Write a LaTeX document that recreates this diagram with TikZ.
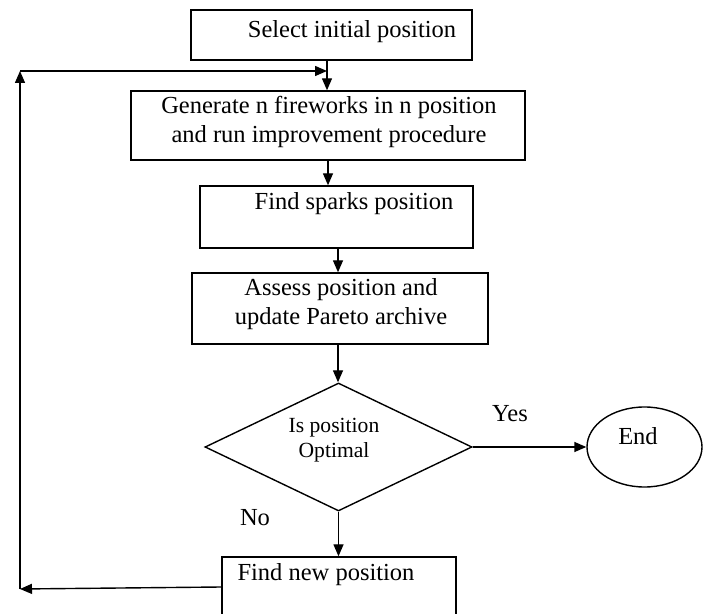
\documentclass[tikz,border=0pt]{standalone}
\usepackage{fontspec}
\setmainfont{Liberation Serif}
\usetikzlibrary{shapes.geometric,arrows.meta}
\begin{document}
\begin{tikzpicture}[x=0.5pt,y=-0.5pt,
  box/.style={draw,line width=0.7pt,rectangle,inner sep=0pt},
  txt/.style={inner sep=0pt,font=\fontsize{12.25}{14.5}\selectfont,align=center},
  small/.style={inner sep=0pt,font=\fontsize{10.8}{12.5}\selectfont,align=center},
  arr/.style={line width=0.7pt,-{Triangle[length=6pt,width=5pt]}},
  ln/.style={line width=0.7pt}]
\useasboundingbox (0,0) rectangle (707,614);
\clip (0,0) rectangle (707,614);
% boxes
\node[box,minimum width=140.5pt,minimum height=25pt] (b1) at (331.5,35) {};
\node[txt] (t1) at (352,32) {Select initial position};
\node[box,minimum width=197pt,minimum height=34.5pt] (b2) at (328,125.5) {};
\node[txt] (t2) at (329,122) {Generate n fireworks in n position\\and run improvement procedure};
\node[box,minimum width=136.5pt,minimum height=31pt] (b3) at (336.5,217) {};
\node[txt] (t3) at (354,204) {Find sparks position};
\node[box,minimum width=148pt,minimum height=35.5pt] (b4) at (340,308.5) {};
\node[txt] (t4) at (341,304) {Assess position and\\update Pareto archive};
\node[draw,line width=0.7pt,diamond,inner sep=0pt,minimum width=133.5pt,minimum height=64pt] (d) at (338.5,447) {};
\node[small] (td) at (334,440) {Is position\\Optimal};
\node[draw,line width=0.7pt,ellipse,inner sep=0pt,minimum width=57.5pt,minimum height=40pt] (e) at (644.5,447) {};
\node[txt] (te) at (638,436) {End};
\node[box,minimum width=117pt,minimum height=34pt] (b5) at (339,591) {};
\node[txt] (t5) at (326,575) {Find new position};
\node[txt] (yes) at (510,414) {Yes};
\node[txt] (no) at (255,518) {No};
% coordinates
\coordinate (x1) at (327,0);
\coordinate (x2) at (328,0);
\coordinate (x3) at (338,0);
\coordinate (y5) at (0,587);
\coordinate (bl) at (20,589);
\coordinate (tl) at (20,71);
\coordinate (j) at (327,71);
% connectors
\draw[arr] (b1.south -| x1) -- (b2.north -| x1);
\draw[arr] (b2.south -| x2) -- (b3.north -| x2);
\draw[arr] (b3.south -| x3) -- (b4.north -| x3);
\draw[arr] (b4.south -| x3) -- (d.north -| x3);
\draw[arr] (d.south) -- (b5.north -| d.south);
\draw[arr] (d.east) -- (e.west);
\draw[arr] (b5.west |- y5) -- (bl);
\draw[arr] (bl) -- (tl);
\draw[arr] (tl) -- (j);
\end{tikzpicture}
\end{document}
